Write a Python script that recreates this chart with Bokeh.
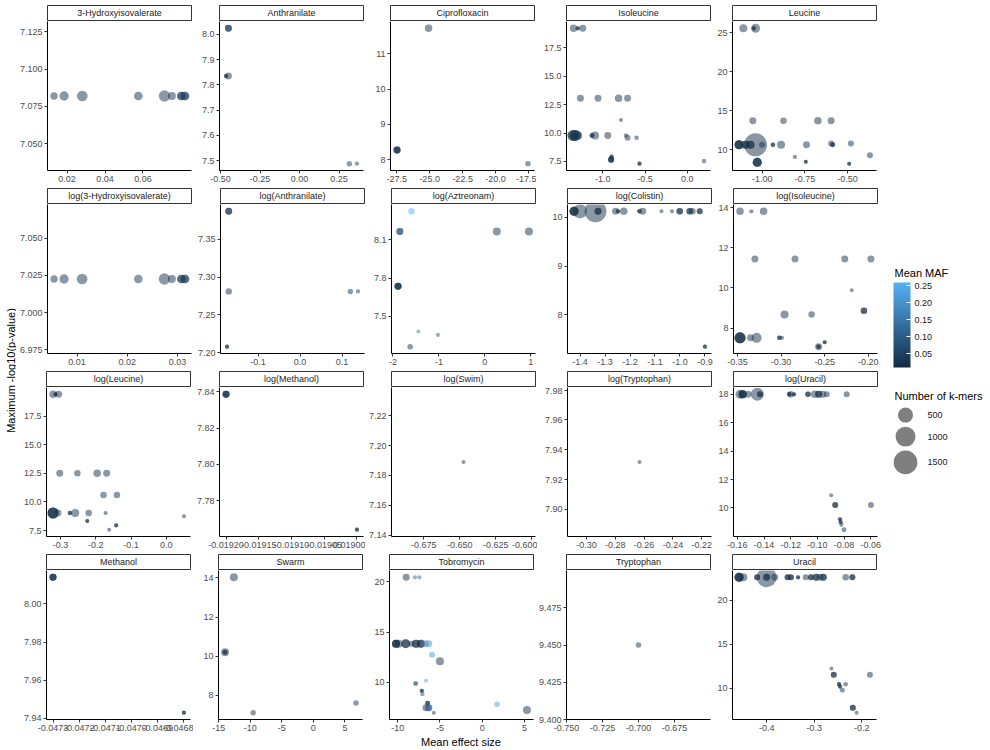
import math

from bokeh.embed import file_html
from bokeh.layouts import column, row
from bokeh.models import (ColorBar, ColumnDataSource, FixedTicker, Label,
                          LinearColorMapper, PrintfTickFormatter, Range1d)
from bokeh.plotting import figure
from bokeh.resources import INLINE
from bokeh.transform import transform
from bokeh.core.properties import value

FONT = "Liberation Sans"

# ---------------------------------------------------------------- data
# one facet per phenotype: mean effect size (x), max -log10(p) (y),
# number of k-mers (size), mean MAF (colour)

x_hiv = [0.0131, 0.0184, 0.0280, 0.0576, 0.0714, 0.0753, 0.0803, 0.0803, 0.0822, 0.0822]
y_hiv = [7.082, 7.082, 7.082, 7.082, 7.082, 7.082, 7.082, 7.082, 7.082, 7.082]
kmers_hiv = [53, 124, 192, 100, 225, 75, 100, 100, 100, 100]
maf_hiv = [0.021, 0.018, 0.020, 0.022, 0.019, 0.024, 0.045, 0.040, 0.045, 0.040]
xt_hiv = [0.02, 0.04, 0.06]
yt_hiv = [7.050, 7.075, 7.100, 7.125]

x_ant = [-0.450, -0.450, -0.450, -0.465, -0.465, 0.315, 0.363]
y_ant = [8.024, 8.024, 7.835, 7.835, 7.835, 7.488, 7.488]
kmers_ant = [45, 45, 45, 2, 2, 15, 2]
maf_ant = [0.020, 0.020, 0.022, 0.015, 0.015, 0.045, 0.045]
xt_ant = [-0.50, -0.25, 0.00, 0.25]
yt_ant = [7.5, 7.6, 7.7, 7.8, 7.9, 8.0]

x_cip = [-25.08, -27.47, -27.47, -27.47, -17.55]
y_cip = [11.73, 8.27, 8.27, 8.27, 7.88]
kmers_cip = [59, 45, 45, 45, 15]
maf_cip = [0.020, 0.012, 0.012, 0.012, 0.035]
xt_cip = [-27.5, -25.0, -22.5, -20.0, -17.5]
yt_cip = [8, 9, 10, 11]

x_ile = [-1.345, -1.294, -1.294, -1.235,
         -1.263, -1.055, -0.812, -0.706,
         -0.784,
         -1.350, -1.350, -1.320, -1.320, -1.290, -1.126, -1.126, -1.090, -0.940, -0.725,
         -0.706, -0.600,
         -0.900, -0.900, -0.895, -0.895, -0.900, -0.565, -0.565, 0.196]
y_ile = [19.23, 19.23, 19.23, 19.23,
         13.07, 13.07, 13.07, 13.07,
         11.16,
         9.79, 9.79, 9.79, 9.79, 9.79, 9.79, 9.79, 9.79, 9.79, 9.79,
         9.58, 9.58,
         7.68, 7.68, 7.92, 7.92, 7.62, 7.30, 7.30, 7.53]
kmers_ile = [55, 2, 2, 45,
             45, 45, 59, 45,
             1,
             208, 208, 208, 208, 75, 8, 8, 75, 45, 2,
             23, 4,
             23, 23, 2, 2, 23, 2, 2, 4]
maf_ile = [0.020, 0.012, 0.012, 0.020,
           0.020, 0.020, 0.020, 0.020,
           0.030,
           0.012, 0.012, 0.012, 0.012, 0.020, 0.012, 0.012, 0.020, 0.020, 0.020,
           0.020, 0.030,
           0.012, 0.012, 0.012, 0.012, 0.020, 0.012, 0.012, 0.035]
xt_ile = [-1.0, -0.5, 0.0]
yt_ile = [7.5, 10.0, 12.5, 15.0, 17.5]

x_leu = [-1.112, -1.040, -1.050, -1.050,
         -1.056, -0.876, -0.674, -0.596,
         -1.040, -1.137, -1.137, -1.137, -1.100, -1.100, -1.070, -1.070, -1.002,
         -1.030, -1.030, -1.030,
         -0.938, -0.938, -0.890, -0.741,
         -0.809, -0.745, -0.745,
         -0.596, -0.587, -0.587, -0.480,
         -0.490, -0.490, -0.368]
y_leu = [25.6, 25.6, 25.6, 25.6,
         13.74, 13.74, 13.74, 13.74,
         10.65, 10.65, 10.65, 10.65, 10.65, 10.65, 10.65, 10.65, 10.65,
         8.40, 8.40, 8.40,
         10.65, 10.65, 10.65, 10.65,
         9.09, 8.48, 8.48,
         10.82, 10.65, 10.65, 10.82,
         8.22, 8.22, 9.31]
kmers_leu = [75, 112, 2, 2,
             45, 33, 59, 45,
             1406, 112, 112, 112, 75, 75, 75, 75, 23,
             112, 112, 112,
             4, 4, 75, 45,
             2, 1, 1,
             23, 8, 8, 23,
             1, 1, 23]
maf_leu = [0.020, 0.020, 0.012, 0.012,
           0.020, 0.020, 0.020, 0.020,
           0.015, 0.012, 0.012, 0.010, 0.012, 0.012, 0.012, 0.012, 0.020,
           0.012, 0.012, 0.012,
           0.012, 0.012, 0.020, 0.020,
           0.020, 0.012, 0.012,
           0.020, 0.012, 0.012, 0.020,
           0.012, 0.012, 0.020]
xt_leu = [-1.00, -0.75, -0.50]
yt_leu = [10, 15, 20, 25]

x_lhiv = [0.0054, 0.0074, 0.0110, 0.0222, 0.0274, 0.0289, 0.0308, 0.0308, 0.0315, 0.0315]
y_lhiv = [7.0225, 7.0225, 7.0225, 7.0225, 7.0225, 7.0225, 7.0225, 7.0225, 7.0225, 7.0225]
kmers_lhiv = [53, 124, 192, 100, 225, 75, 100, 100, 100, 100]
maf_lhiv = [0.021, 0.018, 0.020, 0.022, 0.019, 0.024, 0.045, 0.040, 0.045, 0.040]
xt_lhiv = [0.01, 0.02, 0.03]
yt_lhiv = [6.975, 7.000, 7.025, 7.050]

x_lant = [-0.170, -0.170, -0.170, -0.174, -0.174, 0.120, 0.138]
y_lant = [7.387, 7.387, 7.281, 7.208, 7.208, 7.281, 7.281]
kmers_lant = [45, 45, 33, 2, 2, 15, 2]
maf_lant = [0.015, 0.015, 0.020, 0.012, 0.012, 0.040, 0.040]
xt_lant = [-0.1, 0.0, 0.1]
yt_lant = [7.20, 7.25, 7.30, 7.35]

x_lazt = [-1.597, -1.850, -1.850, 0.260, 0.960, -1.890, -1.890, -1.890, -1.448, -1.022, -1.627]
y_lazt = [8.325, 8.166, 8.166, 8.166, 8.166, 7.737, 7.737, 7.737, 7.381, 7.355, 7.262]
kmers_lazt = [33, 45, 45, 75, 75, 45, 45, 45, 1, 1, 15]
maf_lazt = [0.259, 0.070, 0.070, 0.020, 0.020, 0.012, 0.012, 0.009, 0.160, 0.100, 0.025]
xt_lazt = [-2, -1, 0, 1]
yt_lazt = [7.5, 7.8, 8.1]

x_lcol = [-1.424, -1.424, -1.424, -1.400, -1.338, -1.328, -1.328, -1.258, -1.248, -1.248,
          -1.225, -1.162, -1.162, -1.149, -1.074, -1.032, -1.001, -1.001, -0.961, -0.961,
          -0.950, -0.921, -0.921,
          -0.900, -0.900]
y_lcol = [10.124, 10.124, 10.124, 10.124, 10.124, 10.124, 10.124, 10.124, 10.124, 10.124,
          10.124, 10.124, 10.124, 10.124, 10.124, 10.124, 10.124, 10.124, 10.124, 10.124,
          10.124, 10.124, 10.124,
          7.35, 7.35]
kmers_lcol = [112, 112, 112, 408, 1266, 45, 45, 45, 2, 2,
              59, 4, 4, 45, 1, 2, 33, 33, 33, 33,
              33, 23, 23,
              2, 2]
maf_lcol = [0.012, 0.012, 0.012, 0.020, 0.020, 0.012, 0.012, 0.020, 0.012, 0.012,
            0.020, 0.009, 0.009, 0.020, 0.030, 0.030, 0.015, 0.015, 0.015, 0.015,
            0.020, 0.020, 0.020,
            0.012, 0.012]
xt_lcol = [-1.4, -1.3, -1.2, -1.1, -1.0, -0.9]
yt_lcol = [8, 9, 10]

x_lile = [-0.347, -0.334, -0.320,
          -0.330, -0.284, -0.227, -0.197,
          -0.219,
          -0.296, -0.265, -0.205, -0.205,
          -0.347, -0.347, -0.347, -0.335, -0.328, -0.302, -0.302, -0.299,
          -0.257, -0.257, -0.257, -0.250, -0.250]
y_lile = [13.8, 13.8, 13.8,
          11.43, 11.43, 11.43, 11.43,
          9.88,
          8.68, 8.68, 8.87, 8.87,
          7.52, 7.52, 7.52, 7.52, 7.52, 7.52, 7.52, 7.52,
          7.08, 7.08, 7.08, 7.30, 7.30]
kmers_lile = [59, 2, 59,
              45, 45, 45, 45,
              1,
              75, 33, 33, 33,
              208, 208, 208, 45, 156, 4, 4, 2,
              45, 2, 2, 1, 1]
maf_lile = [0.020, 0.030, 0.020,
            0.020, 0.020, 0.020, 0.020,
            0.030,
            0.020, 0.020, 0.015, 0.015,
            0.012, 0.012, 0.010, 0.020, 0.020, 0.012, 0.012, 0.012,
            0.020, 0.012, 0.012, 0.012, 0.012]
xt_lile = [-0.35, -0.30, -0.25, -0.20]
yt_lile = [8, 10, 12, 14]

x_lleu = [-0.321, -0.314, -0.314, -0.305,
          -0.302, -0.252, -0.196, -0.169,
          -0.178, -0.140,
          -0.321, -0.321, -0.321, -0.307, -0.273, -0.273, -0.258, -0.220, -0.172,
          -0.224, -0.224, -0.162, -0.142, -0.142, 0.050]
y_lleu = [19.40, 19.40, 19.40, 19.40,
          12.5, 12.5, 12.5, 12.5,
          10.61, 10.61,
          9.04, 9.04, 9.04, 9.04, 9.04, 9.04, 9.04, 9.04, 9.04,
          8.34, 8.34, 7.58, 7.96, 7.96, 8.75]
kmers_lleu = [59, 2, 2, 45,
              45, 33, 59, 45,
              33, 33,
              208, 208, 208, 45, 4, 4, 75, 33, 2,
              1, 1, 1, 2, 2, 2]
maf_lleu = [0.020, 0.012, 0.012, 0.020,
            0.020, 0.020, 0.020, 0.020,
            0.020, 0.020,
            0.012, 0.012, 0.010, 0.020, 0.012, 0.012, 0.020, 0.020, 0.030,
            0.012, 0.012, 0.030, 0.012, 0.012, 0.030]
xt_lleu = [-0.3, -0.2, -0.1, 0.0]
yt_lleu = [7.5, 10.0, 12.5, 15.0, 17.5]

x_lmet = [-0.01920, -0.01920, -0.01920, -0.01900, -0.01900]
y_lmet = [7.8387, 7.8387, 7.8387, 7.764, 7.764]
kmers_lmet = [45, 45, 45, 2, 2]
maf_lmet = [0.012, 0.012, 0.012, 0.012, 0.012]
xt_lmet = [-0.01920, -0.01915, -0.01910, -0.01905, -0.01900]
yt_lmet = [7.78, 7.80, 7.82, 7.84]

x_lswi = [-0.6474]
y_lswi = [7.189]
kmers_lswi = [1]
maf_lswi = [0.030]
xt_lswi = [-0.675, -0.650, -0.625, -0.600]
yt_lswi = [7.14, 7.16, 7.18, 7.20, 7.22]

x_ltrp = [-0.2632]
y_ltrp = [7.9318]
kmers_ltrp = [1]
maf_ltrp = [0.030]
xt_ltrp = [-0.30, -0.28, -0.26, -0.24, -0.22]
yt_ltrp = [7.90, 7.92, 7.94, 7.96, 7.98]

x_lura = [-0.158, -0.156, -0.156, -0.156, -0.152, -0.145, -0.143, -0.143, -0.120, -0.121,
          -0.121, -0.1175, -0.1175, -0.107, -0.107, -0.102, -0.099, -0.099, -0.096, -0.093,
          -0.078,
          -0.0896, -0.0866, -0.0866, -0.0598, -0.083, -0.083, -0.0825, -0.0825, -0.082, -0.080]
y_lura = [18.0, 18.0, 18.0, 18.0, 18.0, 18.0, 18.0, 18.0, 18.0, 18.0,
          18.0, 18.0, 18.0, 18.0, 18.0, 18.0, 18.0, 18.0, 18.0, 18.0,
          18.0,
          10.90, 10.21, 10.21, 10.21, 9.20, 9.20, 8.99, 8.99, 8.82, 8.47]
kmers_lura = [112, 75, 75, 75, 45, 334, 23, 23, 33, 4,
              4, 2, 2, 15, 15, 59, 45, 45, 45, 23,
              23,
              1, 23, 23, 23, 2, 2, 1, 1, 1, 8]
maf_lura = [0.020, 0.012, 0.012, 0.012, 0.020, 0.020, 0.012, 0.012, 0.020, 0.012,
            0.012, 0.012, 0.012, 0.012, 0.012, 0.020, 0.015, 0.015, 0.020, 0.020,
            0.020,
            0.030, 0.012, 0.012, 0.020, 0.012, 0.012, 0.012, 0.012, 0.020, 0.020]
xt_lura = [-0.16, -0.14, -0.12, -0.10, -0.08, -0.06]
yt_lura = [10, 12, 14, 16, 18]

x_met = [-0.0473, -0.0473, -0.0473, -0.0468, -0.0468]
y_met = [8.0139, 8.0139, 8.0139, 7.943, 7.943]
kmers_met = [45, 45, 45, 2, 2]
maf_met = [0.015, 0.015, 0.012, 0.012, 0.012]
xt_met = [-0.0473, -0.0472, -0.0471, -0.0470, -0.0469, -0.0468]
yt_met = [7.94, 7.96, 7.98, 8.00]

x_swa = [-12.6, -14.0, -14.0, -14.0, -9.54, 6.75]
y_swa = [14.03, 10.21, 10.21, 10.21, 7.12, 7.62]
kmers_swa = [75, 75, 8, 8, 15, 15]
maf_swa = [0.020, 0.020, 0.012, 0.012, 0.020, 0.035]
xt_swa = [-15, -10, -5, 0, 5]
yt_swa = [8, 10, 12, 14]

x_tob = [-9.00, -7.96, -7.43,
         -10.2, -10.2, -10.2, -9.90, -9.06, -9.06, -8.37, -7.84, -7.84, -7.27, -7.27, -6.74, -6.33,
         -5.94, -5.00,
         -7.88, -7.88, -6.66, -7.15, -7.15, -7.07,
         -6.46, -6.46, -6.66, -6.33, -6.33, -5.73,
         1.75, 5.30]
y_tob = [20.47, 20.47, 20.47,
         13.86, 13.86, 13.86, 13.86, 13.86, 13.86, 13.86, 13.86, 13.86, 13.86, 13.86, 13.86, 13.86,
         12.75, 12.10,
         9.90, 9.90, 10.17, 9.16, 9.16, 8.83,
         7.92, 7.92, 7.48, 7.48, 7.48, 6.98,
         7.82, 7.25]
kmers_tob = [45, 2, 2,
             75, 75, 75, 75, 112, 112, 23, 75, 75, 75, 75, 45, 45,
             23, 75,
             4, 4, 1, 2, 2, 2,
             8, 8, 45, 45, 45, 1,
             15, 75]
maf_tob = [0.020, 0.120, 0.120,
           0.012, 0.012, 0.012, 0.020, 0.012, 0.012, 0.020, 0.012, 0.012, 0.012, 0.012, 0.150, 0.200,
           0.220, 0.020,
           0.100, 0.100, 0.220, 0.012, 0.012, 0.080,
           0.012, 0.012, 0.012, 0.100, 0.100, 0.030,
           0.220, 0.020]
xt_tob = [-10, -5, 0, 5]
yt_tob = [10, 15, 20]

x_trp = [-0.700]
y_trp = [9.450]
kmers_trp = [15]
maf_trp = [0.030]
xt_trp = [-0.750, -0.725, -0.700, -0.675]
yt_trp = [9.400, 9.425, 9.450, 9.475]

x_ura = [-0.458, -0.458, -0.458, -0.449, -0.420, -0.420, -0.400, -0.400, -0.400, -0.383,
         -0.356, -0.356, -0.349, -0.349, -0.334, -0.334, -0.318, -0.307, -0.307, -0.296,
         -0.296, -0.288, -0.281, -0.281, -0.234, -0.220, -0.220,
         -0.264, -0.259, -0.259, -0.183, -0.248, -0.248, -0.246, -0.246, -0.234, -0.241,
         -0.219, -0.219, -0.211]
y_ura = [22.6, 22.6, 22.6, 22.6, 22.6, 22.6, 22.6, 22.6, 22.6, 22.6,
         22.6, 22.6, 22.6, 22.6, 22.6, 22.6, 22.6, 22.6, 22.6, 22.6,
         22.6, 22.6, 22.6, 22.6, 22.6, 22.6, 22.6,
         12.25, 11.53, 11.53, 11.53, 10.46, 10.46, 10.19, 10.19, 10.46, 9.77,
         7.79, 7.79, 7.22]
kmers_ura = [112, 112, 112, 75, 23, 23, 1007, 45, 45, 45,
             23, 23, 23, 23, 2, 2, 23, 23, 23, 45,
             45, 45, 45, 45, 33, 23, 23,
             1, 23, 23, 23, 2, 2, 2, 2, 4, 8,
             23, 23, 1]
maf_ura = [0.012, 0.012, 0.010, 0.020, 0.015, 0.015, 0.020, 0.012, 0.012, 0.020,
           0.012, 0.012, 0.012, 0.012, 0.012, 0.012, 0.020, 0.012, 0.012, 0.012,
           0.012, 0.020, 0.012, 0.012, 0.020, 0.012, 0.012,
           0.030, 0.012, 0.012, 0.020, 0.012, 0.012, 0.012, 0.012, 0.020, 0.020,
           0.012, 0.012, 0.020]
xt_ura = [-0.4, -0.3, -0.2]
yt_ura = [10, 15, 20]

# facet order (row by row), with decimals of the x / y tick labels
PANELS = [
    ("3-Hydroxyisovalerate", x_hiv, y_hiv, kmers_hiv, maf_hiv, xt_hiv, yt_hiv, 2, 3),
    ("Anthranilate", x_ant, y_ant, kmers_ant, maf_ant, xt_ant, yt_ant, 2, 1),
    ("Ciprofloxacin", x_cip, y_cip, kmers_cip, maf_cip, xt_cip, yt_cip, 1, 0),
    ("Isoleucine", x_ile, y_ile, kmers_ile, maf_ile, xt_ile, yt_ile, 1, 1),
    ("Leucine", x_leu, y_leu, kmers_leu, maf_leu, xt_leu, yt_leu, 2, 0),
    ("log(3-Hydroxyisovalerate)", x_lhiv, y_lhiv, kmers_lhiv, maf_lhiv, xt_lhiv, yt_lhiv, 2, 3),
    ("log(Anthranilate)", x_lant, y_lant, kmers_lant, maf_lant, xt_lant, yt_lant, 1, 2),
    ("log(Aztreonam)", x_lazt, y_lazt, kmers_lazt, maf_lazt, xt_lazt, yt_lazt, 0, 1),
    ("log(Colistin)", x_lcol, y_lcol, kmers_lcol, maf_lcol, xt_lcol, yt_lcol, 1, 0),
    ("log(Isoleucine)", x_lile, y_lile, kmers_lile, maf_lile, xt_lile, yt_lile, 2, 0),
    ("log(Leucine)", x_lleu, y_lleu, kmers_lleu, maf_lleu, xt_lleu, yt_lleu, 1, 1),
    ("log(Methanol)", x_lmet, y_lmet, kmers_lmet, maf_lmet, xt_lmet, yt_lmet, 5, 2),
    ("log(Swim)", x_lswi, y_lswi, kmers_lswi, maf_lswi, xt_lswi, yt_lswi, 3, 2),
    ("log(Tryptophan)", x_ltrp, y_ltrp, kmers_ltrp, maf_ltrp, xt_ltrp, yt_ltrp, 2, 2),
    ("log(Uracil)", x_lura, y_lura, kmers_lura, maf_lura, xt_lura, yt_lura, 2, 0),
    ("Methanol", x_met, y_met, kmers_met, maf_met, xt_met, yt_met, 4, 2),
    ("Swarm", x_swa, y_swa, kmers_swa, maf_swa, xt_swa, yt_swa, 0, 0),
    ("Tobromycin", x_tob, y_tob, kmers_tob, maf_tob, xt_tob, yt_tob, 0, 0),
    ("Tryptophan", x_trp, y_trp, kmers_trp, maf_trp, xt_trp, yt_trp, 3, 3),
    ("Uracil", x_ura, y_ura, kmers_ura, maf_ura, xt_ura, yt_ura, 1, 0),
]

MAF_TICKS = [0.05, 0.10, 0.15, 0.20, 0.25]
KMER_BREAKS = [500, 1000, 1500]

# ---------------------------------------------------------------- layout
FRAME_W = 144
PANEL_H = 149
STRIP_H = 15
BOTTOM = 17
LAST_BOTTOM = 16
TOP_PAD = 4
COL_LEFT = [30, 25, 25, 30, 20]
COL_RIGHT = [3, 2, 2, 2, 6]
YTITLE_W = 16
XTITLE_H = 13
LEG_W = 105
GRID_W = sum(l + FRAME_W + r for l, r in zip(COL_LEFT, COL_RIGHT))
GRID_H = TOP_PAD + 4 * (STRIP_H + 2 + PANEL_H) + 3 * BOTTOM + LAST_BOTTOM
TOTAL_H = GRID_H + XTITLE_H


def kmer_size(k):
    return 3.5 + 0.52 * math.sqrt(k)


def pad(vals):
    lo, hi = min(vals), max(vals)
    if hi - lo < 1e-12:
        return lo - 0.05 - 1e-9, hi + 0.05 + 1e-9
    d = (hi - lo) * 0.05
    return lo - d, hi + d


def ramp(c0, c1, n):
    a = [int(c0[i:i + 2], 16) for i in (1, 3, 5)]
    b = [int(c1[i:i + 2], 16) for i in (1, 3, 5)]
    out = []
    for i in range(n):
        t = i / (n - 1)
        out.append("#%02x%02x%02x" % tuple(round(a[j] + (b[j] - a[j]) * t) for j in range(3)))
    return out


all_maf = [m for panel in PANELS for m in panel[4]]
mapper = LinearColorMapper(palette=ramp("#132B43", "#56B1F7", 256),
                           low=min(all_maf), high=max(all_maf))


def style_axes(p, xticks, yticks, xdec, ydec):
    p.grid.visible = False
    p.xaxis.ticker = FixedTicker(ticks=xticks)
    p.yaxis.ticker = FixedTicker(ticks=yticks)
    p.xaxis.formatter = PrintfTickFormatter(format="%%.%df" % xdec)
    p.yaxis.formatter = PrintfTickFormatter(format="%%.%df" % ydec)
    for ax in (p.xaxis, p.yaxis):
        ax.axis_line_color = "black"
        ax.axis_line_width = 1
        ax.major_tick_line_color = "#333333"
        ax.major_tick_in = 0
        ax.major_tick_out = 3
        ax.minor_tick_line_color = None
        ax.major_label_standoff = 2
        ax.major_label_text_font = FONT
        ax.major_label_text_font_size = "9px"
        ax.major_label_text_color = "#4d4d4d"


def make_facet(spec, r, col):
    name, xs, ys, ks, ms, xticks, yticks, xdec, ydec = spec
    left, right = COL_LEFT[col], COL_RIGHT[col]

    strip = figure(title=None, frame_width=FRAME_W, frame_height=STRIP_H,
                   min_border_left=left, min_border_right=right,
                   min_border_top=1 + (TOP_PAD if r == 0 else 0), min_border_bottom=1,
                   x_range=Range1d(0, 1), y_range=Range1d(0, 1),
                   x_axis_type=None, y_axis_type=None,
                   toolbar_location=None, output_backend="svg",
                   outline_line_color="#333333", outline_line_width=1)
    strip.add_layout(Label(x=0.5, y=0.5, text=name, text_align="center",
                           text_baseline="middle", text_font=FONT,
                           text_font_size="9px", text_color="#1a1a1a"))

    src = ColumnDataSource(dict(x=xs, y=ys, kmers=ks, maf=ms,
                                size=[kmer_size(k) for k in ks]))
    p = figure(title=None, frame_width=FRAME_W, frame_height=PANEL_H,
               min_border_left=left, min_border_right=right,
               min_border_top=0, min_border_bottom=LAST_BOTTOM if r == 3 else BOTTOM,
               x_range=Range1d(*pad(xs)), y_range=Range1d(*pad(ys)),
               toolbar_location=None, output_backend="svg",
               outline_line_color=None)
    p.scatter("x", "y", size="size", source=src,
              fill_color=transform("maf", mapper), fill_alpha=0.5, line_color=None)
    style_axes(p, xticks, yticks, xdec, ydec)
    return column(strip, p)


rows = []
for r in range(4):
    rows.append(row(*[make_facet(PANELS[r * 5 + c], r, c) for c in range(5)]))

# shared axis titles
xtitle = figure(title=None, frame_width=GRID_W, frame_height=XTITLE_H,
                x_range=Range1d(0, GRID_W), y_range=Range1d(0, XTITLE_H),
                x_axis_type=None, y_axis_type=None, min_border=0,
                toolbar_location=None, output_backend="svg", outline_line_color=None)
xtitle.add_layout(Label(x=(COL_LEFT[0] + GRID_W - COL_RIGHT[-1]) / 2, y=XTITLE_H / 2,
                        text="Mean effect size", text_align="center", text_baseline="middle",
                        text_font=FONT, text_font_size="11px", text_color="black"))

ytitle = figure(title=None, frame_width=YTITLE_W, frame_height=GRID_H,
                x_range=Range1d(0, YTITLE_W), y_range=Range1d(GRID_H, 0),
                x_axis_type=None, y_axis_type=None, min_border=0,
                toolbar_location=None, output_backend="svg", outline_line_color=None)
ytitle.add_layout(Label(x=10, y=370, angle=math.pi / 2,
                        text="Maximum -log10(p-value)", text_align="center",
                        text_baseline="middle", text_font=FONT,
                        text_font_size="11px", text_color="black"))

# legends: colour bar for MAF, grey circles for k-mer counts
leg = figure(title=None, frame_width=LEG_W, frame_height=TOTAL_H,
             x_range=Range1d(0, LEG_W), y_range=Range1d(TOTAL_H, 0),
             x_axis_type=None, y_axis_type=None, min_border=0,
             toolbar_location=None, output_backend="svg", outline_line_color=None)
leg.add_layout(Label(x=11, y=272, text="Mean MAF", text_baseline="middle",
                     text_font=FONT, text_font_size="11px", text_color="black"))
cbar = ColorBar(color_mapper=mapper, ticker=FixedTicker(ticks=MAF_TICKS),
                formatter=PrintfTickFormatter(format="%.2f"),
                width=17, height=85, location=(10, TOTAL_H - 367),
                padding=0, margin=0, title=None,
                bar_line_color=None, border_line_color=None, background_fill_color=None,
                major_tick_line_color="white", major_tick_in=4, major_tick_out=0,
                minor_tick_line_color=None, label_standoff=4,
                major_label_text_font=FONT, major_label_text_font_size="9px",
                major_label_text_color="#1a1a1a")
leg.add_layout(cbar)

leg.add_layout(Label(x=11, y=395, text="Number of k-mers", text_baseline="middle",
                     text_font=FONT, text_font_size="11px", text_color="black"))
key_sizes = [kmer_size(k) for k in KMER_BREAKS]
key_y = []
top = 405
for s in key_sizes:
    key_y.append(top + (s + 4) / 2)
    top += s + 4
leg.scatter(x=[22] * len(key_sizes), y=key_y, size=key_sizes,
            fill_color="black", fill_alpha=0.5, line_color=None)
leg.text(x=[44] * len(key_sizes), y=key_y, text=[str(b) for b in KMER_BREAKS],
         text_font=value(FONT), text_font_size="9px", text_baseline="middle",
         text_color="#1a1a1a")

layout = row(ytitle, column(*rows, xtitle), leg)

open("out.html", "w").write(file_html(layout, INLINE))
